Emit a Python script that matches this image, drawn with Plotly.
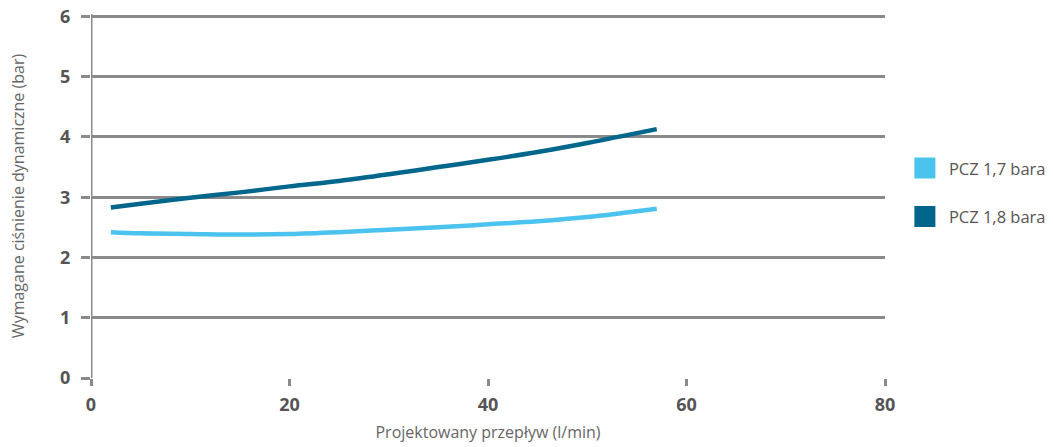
# Wymagane ciśnienie dynamiczne vs projektowany przepływ

import plotly.graph_objects as go

# dane
przeplyw = [2, 5, 10, 15, 20, 25, 30, 35, 40, 45, 50, 57]
pcz_17 = [2.42, 2.40, 2.39, 2.38, 2.39, 2.42, 2.46, 2.50, 2.55, 2.60, 2.67, 2.81]
pcz_18 = [2.83, 2.89, 2.99, 3.08, 3.18, 3.27, 3.38, 3.50, 3.62, 3.75, 3.90, 4.13]

nazwy = ["PCZ 1,7 bara", "PCZ 1,8 bara"]
kolory = ["#4BC3EE", "#00668C"]

szary = "#8a8a8a"
font_txt = "Open Sans"

fig = go.Figure()

for y, nazwa, kolor in zip([pcz_17, pcz_18], nazwy, kolory):
    fig.add_trace(go.Scatter(
        x=przeplyw, y=y, mode="lines", name=nazwa,
        line=dict(color=kolor, width=4.5, shape="spline", smoothing=1.0),
        legendgroup=nazwa, showlegend=False,
    ))
    # kwadrat w legendzie
    fig.add_trace(go.Scatter(
        x=[None], y=[None], mode="markers", name=nazwa,
        marker=dict(symbol="square", size=17, color=kolor,
                    line=dict(color=kolor, width=6)),
        legendgroup=nazwa, showlegend=True,
    ))

fig.update_layout(
    width=1053, height=447,
    margin=dict(l=91, r=168, t=14, b=69, autoexpand=False),
    plot_bgcolor="white", paper_bgcolor="white",
    font=dict(family=font_txt, color="#555555"),
    legend=dict(
        x=1.02, xanchor="left", y=0.51, yanchor="middle",
        font=dict(size=16.5, color="#555555"),
        tracegroupgap=24, itemsizing="trace", itemwidth=38,
    ),
    xaxis=dict(
        range=[0, 80], tickvals=[0, 20, 40, 60, 80], automargin=False,
        showgrid=False, zeroline=False, showline=False,
        ticks="outside", ticklen=7, tickwidth=3, tickcolor=szary,
        ticklabelstandoff=3,
        tickfont=dict(size=18, weight="bold", color="#555555"),
        title=dict(text="Projektowany przepływ (l/min)",
                   font=dict(size=16, color="#666666"), standoff=12),
    ),
    yaxis=dict(
        range=[0, 6.04], tickvals=[0, 1, 2, 3, 4, 5, 6], automargin=False,
        showgrid=True, gridcolor=szary, gridwidth=3,
        zeroline=False, showline=False,
        ticks="outside", ticklen=9, tickwidth=3, tickcolor=szary,
        ticklabelstandoff=7,
        tickfont=dict(size=18, weight="bold", color="#555555"),
        title=dict(text="Wymagane ciśnienie dynamiczne (bar)",
                   font=dict(size=16, color="#666666"), standoff=31),
    ),
    shapes=[
        # oś pionowa przy x=0
        dict(type="line", xref="x", yref="paper", x0=0, x1=0, y0=0, y1=1,
             line=dict(color=szary, width=3), layer="below"),
    ],
)

# bez marginesu strony, żeby wykres zaczynał się w rogu okna
fig.write_html("out.html", config={"displayModeBar": False},
               post_script="document.body.style.margin='0px';")
